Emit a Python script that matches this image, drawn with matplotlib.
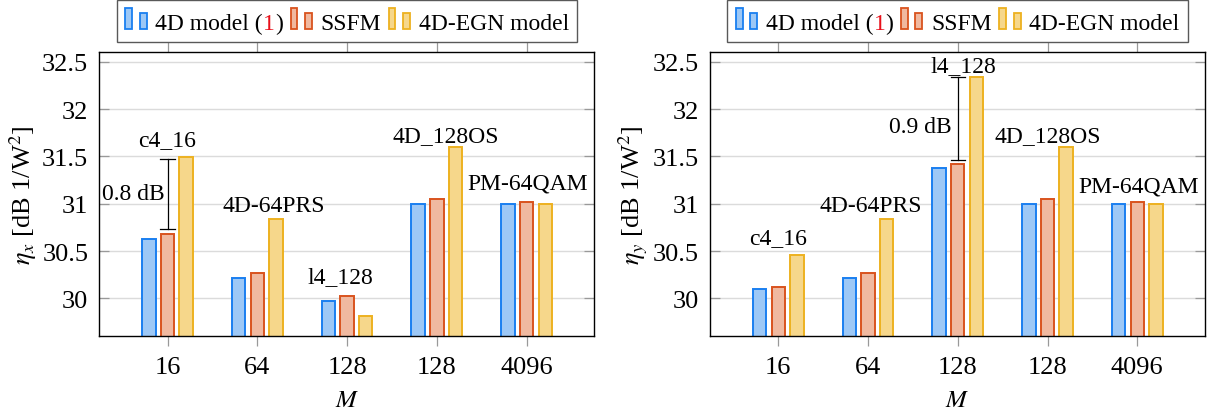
import matplotlib
matplotlib.use('Agg')
import matplotlib.pyplot as plt
from matplotlib.patches import Rectangle
from matplotlib.offsetbox import AnchoredOffsetbox, DrawingArea, HPacker, TextArea
import numpy as np

plt.rcParams['font.family'] = ['Liberation Serif', 'DejaVu Serif']
plt.rcParams['mathtext.fontset'] = 'stix'

# data
categories = ['16', '64', '128', '128', '4096']
series_names = ['4D model (1)', 'SSFM', '4D-EGN model']
format_names = ['c4_16', '4D-64PRS', 'l4_128', '4D_128OS', 'PM-64QAM']

eta_x_4d = [30.63, 30.22, 29.975, 31.0, 31.0]
eta_x_ssfm = [30.68, 30.265, 30.03, 31.05, 31.02]
eta_x_egn = [31.49, 30.835, 29.81, 31.6, 31.0]

eta_y_4d = [30.10, 30.22, 31.38, 31.0, 31.0]
eta_y_ssfm = [30.12, 30.265, 31.42, 31.05, 31.02]
eta_y_egn = [30.46, 30.835, 32.34, 31.6, 31.0]

# gap markers: group index, low, high, label
gap_x = (0, 30.73, 31.47, '0.8 dB')
gap_y = (2, 31.46, 32.34, '0.9 dB')

# label placement: (x offset from group, y baseline)
labels_x_pos = [(0.0, 31.62), (0.18, 30.92), (-0.08, 30.17), (0.10, 31.66), (0.01, 31.16)]
labels_y_pos = [(0.0, 30.58), (0.03, 30.92), (0.065, 32.40), (0.0, 31.66), (0.01, 31.13)]
gap_x_text = (-0.03, 31.05)
gap_y_text = (-0.066, 31.76)

edges = ['#1a7ff0', '#d9531e', '#edb120']
fills = ['#9dc8f6', '#f0b9a0', '#f6d78b']
red = '#e8101a'

fig = plt.figure(figsize=(12.1, 4.14), dpi=100)
ax1 = fig.add_axes([0.0821, 0.1853, 0.4091, 0.686])
ax2 = fig.add_axes([0.5868, 0.1853, 0.4091, 0.686])


def add_legend(ax):
    tp = dict(fontsize=17, color='black')
    entries = []
    for k, name in enumerate(series_names):
        da = DrawingArea(16.6, 15.1, 0, 0)
        da.add_artist(Rectangle((0.5, 0), 4.6, 15.1, fc=fills[k], ec=edges[k], lw=1.3))
        da.add_artist(Rectangle((10.8, 0), 5.0, 11.5, fc=fills[k], ec=edges[k], lw=1.3))
        if '(' in name:
            txt = HPacker(children=[TextArea(name[:-2], textprops=tp),
                                    TextArea(name[-2], textprops=dict(tp, color=red)),
                                    TextArea(name[-1], textprops=tp)],
                          sep=0, pad=0, align='baseline')
        else:
            txt = TextArea(name, textprops=tp)
        entries.append(HPacker(children=[da, txt], sep=5.5, pad=0, align='baseline'))
    box = HPacker(children=entries, sep=5, pad=0, align='baseline')
    ab = AnchoredOffsetbox(loc='lower center', child=box, pad=0.35, borderpad=0,
                           frameon=True, bbox_to_anchor=(0.5, 1.035),
                           bbox_transform=ax.transAxes, prop=dict(size=17))
    ab.patch.set_edgecolor('0.35')
    ab.patch.set_linewidth(1.0)
    ax.add_artist(ab)


def draw_panel(ax, series, ylabel, label_pos, gap, gap_text):
    x = np.arange(len(categories))
    step = 0.208
    for k, vals in enumerate(series):
        ax.bar(x + (k - 1) * step, vals, 0.15, color=fills[k], edgecolor=edges[k],
               linewidth=1.4, zorder=2)

    for i, name in enumerate(format_names):
        dx, yb = label_pos[i]
        ax.text(i + dx, yb, name, ha='center', va='baseline', fontsize=17, zorder=3)

    g, lo, hi, txt = gap
    cap = 0.08
    ax.plot([g, g], [lo, hi], color='black', lw=0.9, zorder=3)
    ax.plot([g - cap, g + cap], [lo, lo], color='black', lw=0.9, zorder=3)
    ax.plot([g - cap, g + cap], [hi, hi], color='black', lw=0.9, zorder=3)
    ax.text(g + gap_text[0], gap_text[1], txt, ha='right', va='baseline', fontsize=17, zorder=3)

    ax.set_xlim(-0.76, 4.755)
    ax.set_ylim(29.6, 32.6)
    ax.set_xticks(x)
    ax.set_xticklabels(categories)
    ax.set_yticks([30, 30.5, 31, 31.5, 32, 32.5])
    ax.set_yticklabels(['30', '30.5', '31', '31.5', '32', '32.5'])
    ax.tick_params(axis='x', direction='out', length=7.2, width=0.9, color='0.6',
                   top=True, bottom=True, labelsize=19, pad=7)
    ax.tick_params(axis='y', direction='in', length=7.5, width=0.9, color='0.6',
                   left=True, right=True, labelsize=19, pad=8)
    ax.grid(axis='y', color='0.86', lw=1.0)
    ax.set_axisbelow(True)
    for s in ax.spines.values():
        s.set_color('black')
        s.set_linewidth(1.0)
    ax.set_ylabel(ylabel, fontsize=19, labelpad=2)
    ax.set_xlabel(r'$M$', fontsize=18, labelpad=8)
    add_legend(ax)


draw_panel(ax1, [eta_x_4d, eta_x_ssfm, eta_x_egn], r'$\eta_x$ [dB 1/W$^2$]',
           labels_x_pos, gap_x, gap_x_text)
draw_panel(ax2, [eta_y_4d, eta_y_ssfm, eta_y_egn], r'$\eta_y$ [dB 1/W$^2$]',
           labels_y_pos, gap_y, gap_y_text)

fig.savefig('out.png', dpi=100)
